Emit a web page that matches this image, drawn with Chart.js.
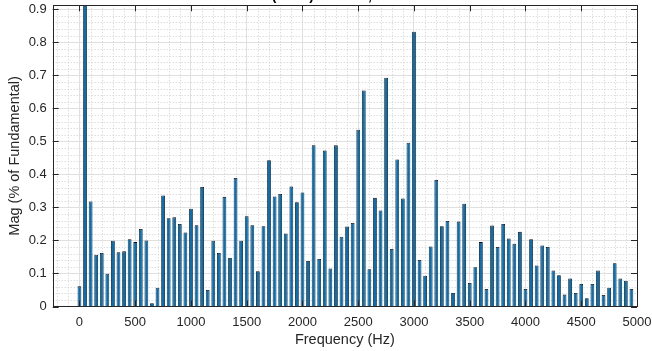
<!DOCTYPE html>
<html>
<head>
<meta charset="utf-8">
<script src="https://cdn.jsdelivr.net/npm/chart.js@4/dist/chart.umd.min.js"></script>
<style>
  html, body { margin: 0; padding: 0; background: #fff; overflow: hidden; }
  #wrap { position: relative; width: 652px; height: 351px; overflow: hidden; }
  #chart { position: absolute; left: 0; top: -20px; }
</style>
</head>
<body>
<div id="wrap"><canvas id="chart" width="652" height="371"></canvas></div>
<script>
const freqs = [
    0, 50, 100, 150, 200, 250, 300, 350, 400, 450,
    500, 550, 600, 650, 700, 750, 800, 850, 900, 950,
    1000, 1050, 1100, 1150, 1200, 1250, 1300, 1350, 1400, 1450,
    1500, 1550, 1600, 1650, 1700, 1750, 1800, 1850, 1900, 1950,
    2000, 2050, 2100, 2150, 2200, 2250, 2300, 2350, 2400, 2450,
    2500, 2550, 2600, 2650, 2700, 2750, 2800, 2850, 2900, 2950,
    3000, 3050, 3100, 3150, 3200, 3250, 3300, 3350, 3400, 3450,
    3500, 3550, 3600, 3650, 3700, 3750, 3800, 3850, 3900, 3950,
    4000, 4050, 4100, 4150, 4200, 4250, 4300, 4350, 4400, 4450,
    4500, 4550, 4600, 4650, 4700, 4750, 4800, 4850, 4900, 4950
];

// magnitude in % of fundamental (50 Hz bar is the fundamental itself)
const mags = [
    0.061, 100, 0.318, 0.157, 0.162, 0.099, 0.199, 0.164, 0.167, 0.204,
    0.195, 0.235, 0.200, 0.010, 0.057, 0.336, 0.267, 0.270, 0.250, 0.224,
    0.296, 0.246, 0.362, 0.050, 0.199, 0.162, 0.332, 0.147, 0.389, 0.199,
    0.273, 0.246, 0.107, 0.243, 0.443, 0.333, 0.341, 0.221, 0.363, 0.316,
    0.345, 0.138, 0.488, 0.144, 0.472, 0.115, 0.488, 0.211, 0.242, 0.253,
    0.535, 0.654, 0.113, 0.329, 0.291, 0.693, 0.174, 0.445, 0.327, 0.496,
    0.832, 0.141, 0.093, 0.182, 0.383, 0.243, 0.259, 0.041, 0.257, 0.311,
    0.071, 0.119, 0.195, 0.053, 0.245, 0.180, 0.250, 0.206, 0.190, 0.226,
    0.053, 0.204, 0.124, 0.185, 0.180, 0.109, 0.095, 0.036, 0.085, 0.041,
    0.068, 0.025, 0.068, 0.109, 0.035, 0.057, 0.131, 0.085, 0.078, 0.053
];

const xTicks = [0, 500, 1000, 1500, 2000, 2500, 3000, 3500, 4000, 4500, 5000];
const yTicks = [0, 0.1, 0.2, 0.3, 0.4, 0.5, 0.6, 0.7, 0.8, 0.9];

const titleText = 'Fundamental (50Hz) = 311.1 , THD= 3.05%';
const axisColor = '#262626';
const fontFamily = '"Liberation Sans", Arial, sans-serif';

// minor grid (dotted), inward tick marks and the axes box
const matlabAxes = {
    id: 'matlabAxes',
    beforeDatasetsDraw(chart) {
        const {ctx, chartArea: a, scales: {x, y}} = chart;
        ctx.save();
        ctx.strokeStyle = '#cfcfcf';
        ctx.lineWidth = 1;
        ctx.setLineDash([1, 2]);
        for (let f = -200; f < 5000; f += 100) {
            if (f % 500 === 0) continue;
            const px = Math.round(x.getPixelForValue(f)) + 0.5;
            ctx.beginPath();
            ctx.moveTo(px, a.top);
            ctx.lineTo(px, a.bottom);
            ctx.stroke();
        }
        for (let i = 1; i < 46; i++) {
            if (i % 5 === 0) continue;
            const py = Math.round(y.getPixelForValue(i * 0.02)) + 0.5;
            ctx.beginPath();
            ctx.moveTo(a.left, py);
            ctx.lineTo(a.right, py);
            ctx.stroke();
        }
        ctx.restore();
    },
    afterDatasetsDraw(chart) {
        const {ctx, chartArea: a, scales: {x, y}} = chart;
        const tl = 6;
        ctx.save();
        ctx.strokeStyle = axisColor;
        ctx.lineWidth = 1;
        ctx.beginPath();
        xTicks.forEach(v => {
            const px = Math.round(x.getPixelForValue(v)) + 0.5;
            ctx.moveTo(px, a.bottom); ctx.lineTo(px, a.bottom - tl);
            ctx.moveTo(px, a.top); ctx.lineTo(px, a.top + tl);
        });
        yTicks.forEach(v => {
            const py = Math.round(y.getPixelForValue(v)) + 0.5;
            ctx.moveTo(a.left, py); ctx.lineTo(a.left + tl, py);
            ctx.moveTo(a.right, py); ctx.lineTo(a.right - tl, py);
        });
        ctx.stroke();
        ctx.strokeRect(Math.round(a.left) + 0.5, Math.round(a.top) + 0.5,
            Math.round(a.right - a.left), Math.round(a.bottom - a.top));
        ctx.restore();
    }
};

const ctx = document.getElementById('chart').getContext('2d');

const chart = new Chart(ctx, {
    type: 'bar',
    data: {
        datasets: [{
            data: freqs.map((f, i) => ({x: f, y: mags[i]})),
            backgroundColor: '#0072BD',
            borderColor: '#0a0a0a',
            borderWidth: 0.8,
            barPercentage: 0.8,
            categoryPercentage: 0.84
        }]
    },
    options: {
        responsive: false,
        animation: false,
        events: [],
        layout: { padding: { left: 0, right: 15, top: 0, bottom: 0 } },
        plugins: {
            legend: { display: false },
            tooltip: { enabled: false },
            title: {
                display: true,
                text: titleText,
                color: '#000',
                font: { family: fontFamily, size: 14, weight: 'bold', lineHeight: 1.2 },
                padding: { top: 7.3, bottom: 1.2 }
            }
        },
        scales: {
            x: {
                type: 'linear',
                offset: false,
                min: -240,
                max: 5000,
                afterBuildTicks: s => { s.ticks = xTicks.map(v => ({value: v})); },
                afterFit: s => { s.height = 44.5; s.paddingLeft = 0; s.paddingRight = 0; },
                grid: { color: '#e0e0e0', drawTicks: false, offset: false },
                border: { display: false },
                ticks: {
                    color: axisColor,
                    padding: 8,
                    maxRotation: 0,
                    callback: v => String(v),
                    font: { family: fontFamily, size: 13 }
                },
                title: {
                    display: true,
                    text: 'Frequency (Hz)',
                    color: axisColor,
                    padding: { top: 0, bottom: 2.3 },
                    font: { family: fontFamily, size: 14.5, lineHeight: 1.2 }
                }
            },
            y: {
                min: 0,
                max: 0.912,
                afterBuildTicks: s => { s.ticks = yTicks.map(v => ({value: v})); },
                afterFit: s => { s.width = 52.7; s.paddingTop = 0; s.paddingBottom = 0; },
                grid: { color: '#e0e0e0', drawTicks: false },
                border: { display: false },
                ticks: {
                    color: axisColor,
                    padding: 6,
                    callback: v => v === 0 ? '0' : v.toFixed(1),
                    font: { family: fontFamily, size: 13 }
                },
                title: {
                    display: true,
                    text: 'Mag (% of Fundamental)',
                    color: axisColor,
                    padding: { top: 6.3, bottom: 0 },
                    font: { family: fontFamily, size: 14.5, lineHeight: 1.2 }
                }
            }
        }
    },
    plugins: [matlabAxes]
});
</script>
</body>
</html>
